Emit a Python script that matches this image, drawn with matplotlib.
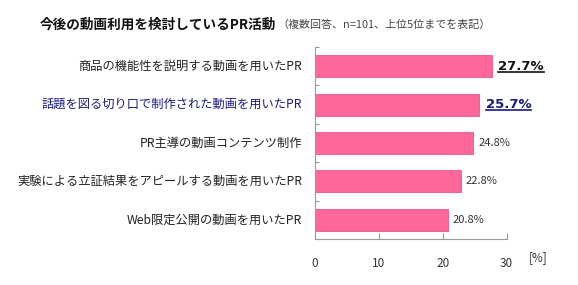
import matplotlib
matplotlib.use("Agg")
import matplotlib.pyplot as plt
from matplotlib.lines import Line2D

plt.rcParams['font.family'] = ['Noto Sans CJK JP', 'DejaVu Sans']

categories = [
    "商品の機能性を説明する動画を用いたPR",
    "話題を図る切り口で制作された動画を用いたPR",
    "PR主導の動画コンテンツ制作",
    "実験による立証結果をアピールする動画を用いたPR",
    "Web限定公開の動画を用いたPR",
]
values = [27.7, 25.7, 24.8, 22.8, 20.8]
value_labels = ["27.7%", "25.7%", "24.8%", "22.8%", "20.8%"]
xticks = [0, 10, 20, 30]
title = "今後の動画利用を検討しているPR活動"
subtitle = "（複数回答、n=101、上位5位までを表記）"

fig = plt.figure(figsize=(5.78, 2.85), dpi=100)
ax = fig.add_axes([315/578, 1-239/285, (506.7-315)/578, (239-47)/285])

y = list(range(len(categories)))
ax.barh(y, values, height=0.57, color='#FF6699', edgecolor='#E8588A', linewidth=0.6, zorder=2)
ax.set_ylim(len(categories)-0.5, -0.5)
ax.set_xlim(0, 30)

for s in ['top', 'right']:
    ax.spines[s].set_visible(False)
for s in ['left', 'bottom']:
    ax.spines[s].set_color('#999999')
    ax.spines[s].set_linewidth(0.8)

ax.set_yticks([i + 0.5 for i in range(-1, len(categories))])
ax.set_yticklabels([])
ax.tick_params(axis='y', direction='in', length=3, color='#999999', width=0.8)
ax.set_xticks(xticks)
ax.set_xticklabels([str(t) for t in xticks])
ax.tick_params(axis='x', direction='in', length=4, color='#999999', width=0.8,
               labelsize=8.5, labelcolor='#333333', pad=13)

label_colors = ['#222222', '#1a1a80', '#222222', '#222222', '#222222']
for i, (c, col) in enumerate(zip(categories, label_colors)):
    ax.text(-2.0, i, c, ha='right', va='center', fontsize=8.8, color=col)

fig.text(538/578, 1-258/285, "[%]", ha='center', va='center', fontsize=8.5, color='#333333')

fig.text(40/578, 1-25/285, title, ha='left', va='center', fontsize=9.8, fontweight='bold', color='#111111')
fig.text(277/578, 1-25/285, subtitle, ha='left', va='center', fontsize=7.9, color='#444444')

underline_texts = []
for i, (v, lab) in enumerate(zip(values, value_labels)):
    if i == 0:
        t = ax.text(v + 1.0, i, lab, ha='left', va='center', fontsize=9.5, fontweight='bold',
                    color='#111111', family=['DejaVu Sans'])
        underline_texts.append(t)
    elif i == 1:
        t = ax.text(v + 1.0, i, lab, ha='left', va='center', fontsize=9.5, fontweight='bold',
                    color='#1a1a80', family=['DejaVu Sans'])
        underline_texts.append(t)
    else:
        ax.text(v + 0.8, i, lab, ha='left', va='center', fontsize=8, color='#333333')

fig.canvas.draw()
r = fig.canvas.get_renderer()
W, H = fig.get_size_inches() * fig.dpi
for t in underline_texts:
    bb = t.get_window_extent(r)
    yline = bb.y0 + 1
    fig.add_artist(Line2D([bb.x0 / W, bb.x1 / W], [yline / H, yline / H],
                          color=t.get_color(), linewidth=1.2))

fig.savefig("out.png", dpi=100, facecolor='white')
